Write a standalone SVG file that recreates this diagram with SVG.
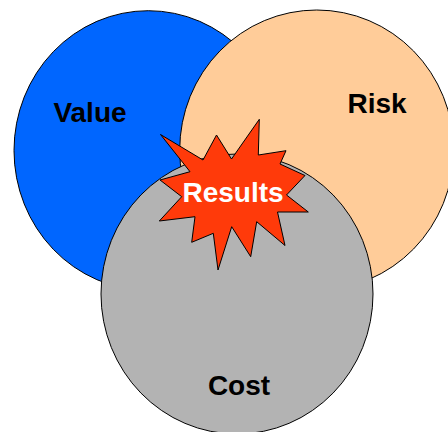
<svg xmlns="http://www.w3.org/2000/svg" width="448" height="432" viewBox="0 0 448 432">
<style>
.c{stroke:#000;stroke-width:1}
.t{font-family:"Liberation Sans",Arial,sans-serif;font-weight:bold;font-size:28px;text-anchor:middle;fill:#000}
</style>
<rect width="448" height="432" fill="#fff"/>
<g id="value"><ellipse class="c" cx="148.3" cy="150.5" rx="134.3" ry="139.8" fill="#0066FF"/></g>
<g id="risk"><ellipse class="c" cx="316.7" cy="150" rx="137" ry="140" fill="#FFCC99"/></g>
<g id="cost"><ellipse class="c" cx="237" cy="294" rx="136" ry="140" fill="#B3B3B3"/></g>
<g id="results"><polygon class="c" fill="#FF3A0A" points="160.5,134.5 203,160 216.5,135 231.5,159 259.3,119.3 258.3,155 286,150.7 280,164 305,175.5 286.5,195 308.3,212 277.5,212 285,245.5 256.7,221.7 250.7,256.7 231.7,226.7 218,270 213.3,233.3 191.7,242.3 195,216.7 159.3,221 181.7,196.7 160,180 190,171.7"/></g>
<g id="labels">
<text class="t" x="90" y="121.7">Value</text>
<text class="t" x="377" y="113.3">Risk</text>
<text class="t" x="239" y="395">Cost</text>
<text class="t" x="233" y="201.7" fill="#fff" style="fill:#fff">Results</text>
</g>
</svg>
